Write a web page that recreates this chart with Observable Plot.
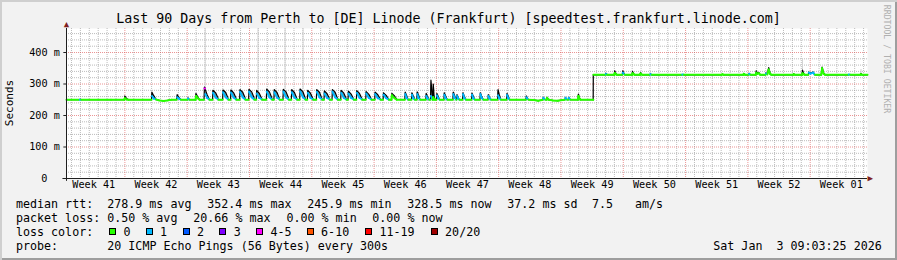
<!DOCTYPE html>
<html><head><meta charset="utf-8">
<script src="https://cdn.jsdelivr.net/npm/d3@7"></script>
<script src="https://cdn.jsdelivr.net/npm/@observablehq/plot@0.6"></script>
<style>
html,body{margin:0;padding:0;background:#f2f2f2;}
#wrap{position:relative;width:897px;height:260px;background:#f2f2f2;overflow:hidden;font-family:"DejaVu Sans Mono",monospace;color:#000;}
#wrap svg{position:absolute;left:0;top:0;overflow:visible;}
.t{position:absolute;white-space:pre;line-height:14px;font-size:11.66px;}
.sw{position:absolute;width:5px;height:5px;border:1px solid #000;}
#border{position:absolute;left:0;top:0;width:897px;height:260px;box-shadow:inset 2px 2px 0 #cfcfcf, inset -2px -2px 0 #9e9e9e;pointer-events:none;}
</style></head>
<body>
<div id="wrap"></div>
<script>
// ---------------- data ----------------
const titleText = "Last 90 Days from Perth to [DE] Linode (Frankfurt) [speedtest.frankfurt.linode.com]";
const yAxisTitle = "Seconds";
const watermark = "RRDTOOL / TOBI OETIKER";

// x in days since start of the 90-day window
const weekLineDays = [6.56, 13.56, 20.56, 27.56, 34.56, 41.56, 48.56, 55.56, 62.56, 69.56, 76.56, 83.56];
const weekLabelDays = [3.06, 10.06, 17.06, 24.06, 31.06, 38.06, 45.06, 52.06, 59.06, 66.06, 73.06, 80.06, 87.06];
const weekLabels = ["Week 41","Week 42","Week 43","Week 44","Week 45","Week 46","Week 47","Week 48","Week 49","Week 50","Week 51","Week 52","Week 01"];
const yMajorTicks = [0, 100, 200, 300, 400];
const yMinorStep = 20;
const yMax = 476.2;
const xMax = 90;

// [day, median ms, smoke max ms, lost pings of 20]
const rttSamples = [
  [0.00,250,250,0],
  [1.40,250,250,0],[1.50,250,251,1],[1.60,250,251,1],[1.65,250,250,0],
  [5.00,250,250,0],
  [6.50,250,250,0],[6.56,255,262,0],[6.75,251,254,0],[6.95,250,250,0],
  [9.55,250,250,0],[9.60,262,274,1],[9.80,254,263,1],[10.00,252,254,1],[10.05,251,251,0],
  [10.40,248,248,0],[10.90,246,247,0],[11.40,248,248,0],[11.80,250,250,0],
  [12.38,250,250,0],[12.44,258,266,1],[12.65,253,257,1],[12.80,251,252,1],[12.85,250,250,0],
  [13.60,250,250,0],[13.65,254,256,1],[13.78,251,251,1],[13.82,250,250,0],
  [14.50,250,250,0],[14.55,262,270,0],[14.75,255,259,0],[14.95,250,250,0],
  [15.45,250,250,0],[15.50,286,290,4],[15.56,286,289,4],[15.60,268,282,1],[15.80,256,266,1],[16.00,252,254,1],[16.05,250,250,0],
  [16.41,250,250,0],[16.46,272,280,1],[16.76,257,272,1],[17.01,252,256,1],[17.06,250,250,0],
  [17.54,250,250,0],[17.59,274,281,1],[17.89,258,273,1],[18.14,252,256,1],[18.19,250,250,0],
  [18.43,250,250,0],[18.48,273,281,1],[18.78,257,272,1],[19.03,252,256,1],[19.08,250,250,0],
  [19.45,250,250,0],[19.50,275,282,1],[19.80,258,274,1],[20.05,252,257,1],[20.10,250,250,0],
  [20.46,250,250,0],[20.51,276,283,1],[20.81,258,275,1],[21.06,252,257,1],[21.11,250,250,0],
  [21.32,250,250,0],[21.37,270,280,1],[21.67,256,270,1],[21.92,252,255,1],[21.97,250,250,0],
  [22.45,250,250,0],[22.50,276,284,1],[22.80,258,275,1],[23.05,252,257,1],[23.10,250,250,0],
  [23.30,250,250,0],[23.35,274,282,1],[23.65,257,273,1],[23.90,252,256,1],[23.95,250,250,0],
  [24.32,250,250,0],[24.37,276,283,1],[24.67,258,275,1],[24.92,252,257,1],[24.97,250,250,0],
  [25.26,250,250,0],[25.31,274,282,1],[25.61,257,273,1],[25.86,252,256,1],[25.91,250,250,0],
  [26.20,250,250,0],[26.25,277,284,1],[26.55,259,276,1],[26.80,252,257,1],[26.85,250,250,0],
  [27.06,250,250,0],[27.11,272,280,1],[27.41,256,271,1],[27.66,252,255,1],[27.71,250,250,0],
  [28.07,250,250,0],[28.12,275,282,1],[28.42,258,274,1],[28.67,252,256,1],[28.72,250,250,0],
  [28.93,250,250,0],[28.98,270,278,1],[29.28,256,269,1],[29.53,252,255,1],[29.58,250,250,0],
  [29.83,250,250,0],[29.88,276,282,1],[30.18,258,274,1],[30.43,252,256,1],[30.48,250,250,0],
  [30.81,250,250,0],[30.86,272,280,1],[31.16,256,271,1],[31.41,252,255,1],[31.46,250,250,0],
  [31.63,250,250,0],[31.68,270,277,1],[31.98,256,268,1],[32.23,252,254,1],[32.28,250,250,0],
  [32.57,250,250,0],[32.62,272,279,1],[32.92,256,270,1],[33.17,252,255,1],[33.22,250,250,0],
  [33.62,250,250,0],[33.67,270,276,1],[33.97,256,267,1],[34.22,252,254,1],[34.27,250,250,0],
  [34.63,250,250,0],[34.68,268,274,1],[34.98,255,266,1],[35.23,252,254,1],[35.28,250,250,0],
  [35.57,250,250,0],[35.62,266,272,1],[35.92,255,264,1],[36.17,251,253,1],[36.22,250,250,0],
  [36.51,250,250,0],[36.56,264,270,0],[36.86,255,262,0],[37.11,250,251,0],
  [38.01,250,250,0],[38.06,268,274,1],[38.20,256,264,1],[38.35,251,253,1],[38.40,250,250,0],
  [38.76,250,250,0],[38.81,266,272,1],[38.95,255,263,1],[39.10,251,253,1],[39.15,250,250,0],
  [39.36,250,250,0],[39.41,268,275,1],[39.55,256,265,1],[39.70,251,253,1],[39.75,250,250,0],
  [40.37,250,250,0],[40.42,262,270,1],[40.56,254,260,1],[40.70,251,252,1],[40.75,250,250,0],
  [40.90,250,250,0],[40.95,262,312,1],[41.05,256,280,1],[41.12,251,256,1],[41.15,250,250,0],
  [41.18,250,250,0],[41.21,258,300,0],[41.30,252,262,0],[41.40,250,250,0],
  [41.57,250,250,0],[41.62,264,270,1],[41.76,255,261,1],[41.90,251,252,1],[41.95,250,250,0],
  [42.40,250,250,0],[42.45,266,272,1],[42.59,255,263,1],[42.75,251,252,1],[42.80,250,250,0],
  [43.41,250,250,0],[43.46,268,274,1],[43.60,256,264,1],[43.75,251,252,1],[43.80,250,250,0],
  [43.83,250,250,0],[43.88,262,266,1],[44.00,254,258,1],[44.12,251,251,1],[44.16,250,250,0],
  [44.50,250,250,0],[44.55,268,272,1],[44.69,256,262,1],[44.84,251,252,1],[44.89,250,250,0],
  [45.51,250,250,0],[45.56,266,271,1],[45.70,255,262,1],[45.85,251,252,1],[45.90,250,250,0],
  [46.45,250,250,0],[46.50,268,272,1],[46.64,256,262,1],[46.79,251,252,1],[46.84,250,250,0],
  [47.35,250,250,0],[47.40,262,266,1],[47.54,254,258,1],[47.68,251,251,1],[47.72,250,250,0],
  [48.44,250,250,0],[48.49,264,282,1],[48.63,255,266,1],[48.78,251,252,1],[48.82,250,250,0],
  [49.45,250,250,0],[49.50,265,270,1],[49.64,255,261,1],[49.78,251,251,1],[49.82,250,250,0],
  [51.62,250,250,0],[51.67,258,262,1],[51.80,253,255,1],[51.90,250,250,0],
  [52.50,249,249,0],[53.00,247,247,0],[53.40,249,249,0],
  [53.53,250,250,0],[53.58,256,258,1],[53.70,252,253,1],[53.80,250,250,0],
  [53.95,250,250,0],[54.00,256,258,0],[54.12,251,252,0],[54.20,250,250,0],
  [54.60,248,248,0],[55.20,247,247,0],[55.70,249,249,0],
  [56.01,250,250,0],[56.06,256,258,1],[56.18,252,253,1],[56.25,250,250,0],
  [56.38,250,250,0],[56.43,256,258,1],[56.55,252,253,1],[56.62,250,250,0],
  [57.47,250,250,0],[57.52,262,268,0],[57.62,254,257,0],[57.75,250,250,0],
  [59.18,250,250,0],[59.19,250,329,0],[59.195,null,329,0],[59.20,329,329,0],
  [60.55,329,329,0],[60.60,332,334,1],[60.68,331,332,1],[60.72,329,329,0],
  [61.55,329,329,0],[61.60,335,342,0],[61.72,331,334,0],[61.85,329,329,0],
  [62.45,329,329,0],[62.50,336,342,1],[62.62,332,335,1],[62.72,329,329,0],
  [63.55,329,329,0],[63.60,334,340,0],[63.72,331,333,0],[63.85,329,329,0],
  [64.45,329,329,0],[64.50,333,336,0],[64.62,330,331,0],[64.75,329,329,0],
  [65.55,329,329,0],[65.60,331,332,1],[65.70,330,330,1],[65.75,329,329,0],
  [69.15,329,329,0],[69.20,330,330,1],[69.30,330,330,1],[69.35,329,329,0],
  [73.60,329,329,0],[73.70,331,331,0],[73.85,329,329,0],
  [76.05,329,329,0],[76.10,332,334,0],[76.25,329,329,0],
  [76.65,329,329,0],[76.70,332,334,1],[76.80,330,331,1],[76.85,329,329,0],
  [77.45,329,329,0],[77.50,336,342,0],[77.62,332,335,0],[77.80,334,336,0],[77.95,329,329,0],
  [78.55,329,329,0],[78.60,333,335,1],[78.70,332,333,1],[78.75,330,330,0],[78.90,346,352,0],[79.05,332,335,0],[79.20,329,329,0],
  [81.65,329,329,0],[81.70,331,333,0],[81.85,329,329,0],
  [82.65,329,329,0],[82.70,334,344,0],[82.82,331,334,0],[82.95,329,329,0],
  [83.35,329,329,0],[83.40,336,338,1],[83.60,333,335,1],[83.90,336,338,1],[84.05,330,330,1],[84.10,329,329,0],
  [84.80,329,329,0],[84.90,350,354,0],[85.05,333,336,0],[85.25,329,329,0],
  [87.85,329,329,0],[87.90,330,330,1],[88.00,330,330,1],[88.05,329,329,0],
  [89.20,329,329,0],[89.25,331,334,0],[89.40,329,329,0],
  [90.00,329,329,0]
];

// light smoke columns from outlier pings: [day, from ms, to ms]
const smokeOutliers = [[15.58,290,476],[21.52,280,476],[24.56,283,476],[26.58,284,476],[82.69,344,380],[89.27,334,346]];

// loss colour legend
const lossLabels = ["0","1","2","3","4-5","6-10","11-19","20/20"];
const lossColors = ["#26ff00","#00b8ff","#0059ff","#7e00ff","#ff00ff","#ff5500","#ff0000","#a00000"];
const lossUpper = [0,1,2,3,5,10,19,20];

const legendRtt = ["median rtt:  278.9 ms avg","352.4 ms max","245.9 ms min","328.5 ms now","37.2 ms sd","7.5","am/s"];
const legendLoss = ["packet loss: 0.50 % avg","20.66 % max","0.00 % min","0.00 % now"];
const legendLossTitle = "loss color:";
const legendProbe = ["probe:","20 ICMP Echo Pings (56 Bytes) every 300s"];
const legendDate = "Sat Jan  3 09:03:25 2026";

// ---------------- layout ----------------
const rttX = [16, 207.3, 307.3, 407.3, 507.3, 592, 635];
const lossX = [16, 193.3, 286.5, 372.3];
const swatchX = [109, 145.7, 182.7, 219.3, 256, 306.7, 365, 430.7];
const lineTop = [197, 211, 225, 239];

const colorOf = l => lossColors[lossUpper.findIndex(u => l <= u)];
const day = d => d[0], med = d => d[1], smax = d => d[2];

// median line segments: only joined where loss colour is the same (smokeping style)
const links = [];
for (let i = 0; i < rttSamples.length - 1; i++) {
  const a = rttSamples[i], b = rttSamples[i + 1];
  if (a[1] == null || b[1] == null) continue;
  if (colorOf(a[3]) !== colorOf(b[3])) continue;
  links.push({a, b, c: colorOf(b[3])});
}

const dayLines = d3.range(0.56, xMax, 1).filter(v => !weekLineDays.some(w => Math.abs(w - v) < 0.01));
const yMinor = d3.range(yMinorStep, yMax, yMinorStep).filter(v => v % 100 !== 0);
const gridCol = "#8f8f8f", mgridCol = "#de4f4f";

const chart = Plot.plot({
  width: 897, height: 200,
  marginLeft: 66, marginRight: 30, marginTop: 28, marginBottom: 22,
  x: {domain: [0, xMax], axis: null},
  y: {domain: [0, yMax], axis: null},
  style: {background: "transparent", fontFamily: "DejaVu Sans Mono", fontSize: "10.2px", overflow: "visible"},
  marks: [
    Plot.frame({fill: "white", stroke: "none"}),
    Plot.ruleY(yMinor, {stroke: gridCol, strokeOpacity: 0.6, strokeDasharray: "1,1"}),
    Plot.ruleX(dayLines, {stroke: gridCol, strokeOpacity: 0.6, strokeDasharray: "1,1"}),
    Plot.ruleY(yMajorTicks.filter(v => v > 0), {stroke: mgridCol, strokeOpacity: 0.6, strokeDasharray: "1,1"}),
    Plot.ruleX(weekLineDays, {stroke: mgridCol, strokeOpacity: 0.6, strokeDasharray: "1,1"}),
    Plot.ruleX(smokeOutliers, {x: d => d[0], y1: d => d[1], y2: d => d[2], stroke: "#d2d2d2"}),
    Plot.areaY(rttSamples, {x: day, y1: med, y2: smax, fill: "#8c8c8c", curve: "linear"}),
    Plot.line(rttSamples, {x: day, y: smax, stroke: "#000", strokeWidth: 1.2, curve: "linear"}),
    Plot.link(links, {x1: d => d.a[0], y1: d => d.a[1], x2: d => d.b[0], y2: d => d.b[1], stroke: d => d.c, strokeWidth: 2, strokeLinecap: "round"}),
    // axes
    Plot.ruleY([0], {x1: -0.4, x2: xMax, stroke: "#1f1f1f"}),
    Plot.ruleX([0], {y1: -9, y2: yMax, stroke: "#1f1f1f"}),
    Plot.ruleY(yMajorTicks.filter(v => v > 0), {x1: -0.3, x2: 0, stroke: "#1f1f1f"}),
    Plot.text([xMax], {x: d => d, y: 0, text: () => "\u25B6", textAnchor: "start", dx: 0, fill: "#801f1f", fontSize: 9}),
    Plot.text([yMax], {x: 0, y: d => d, text: () => "\u25B2", dy: -4, fill: "#801f1f", fontSize: 9}),
    // tick labels
    Plot.text(yMajorTicks.filter(v => v > 0), {frameAnchor: "left", y: d => d, text: d => `${d} m`, textAnchor: "end", dx: -6.7, fill: "#000", fontSize: 10.2}),
    Plot.text(yMajorTicks.filter(v => v === 0), {frameAnchor: "left", y: d => d, text: d => `${d}`, textAnchor: "end", dx: -19.1, fill: "#000", fontSize: 10.2}),
    Plot.text(weekLabels, {x: (d, i) => weekLabelDays[i], frameAnchor: "bottom", dy: 9.7, text: d => d, fill: "#000", fontSize: 10.2})
  ]
});

const wrap = document.getElementById("wrap");
wrap.appendChild(chart);

function addText(txt, left, top, extra) {
  const el = document.createElement("div");
  el.className = "t";
  el.textContent = txt;
  el.style.left = left + "px";
  el.style.top = top + "px";
  if (extra) Object.assign(el.style, extra);
  wrap.appendChild(el);
  return el;
}
// title
addText(titleText, 0, 11.4, {width: "897px", textAlign: "center", fontSize: "13.3px", lineHeight: "16px"});
// y axis title
addText(yAxisTitle, 10, 103, {fontSize: "11px", transform: "translate(-50%,-50%) rotate(-90deg)", lineHeight: "12px"});
// watermark
addText(watermark, 886, 59, {fontSize: "8.2px", color: "#b0b0b0", transform: "translate(-50%,-50%) rotate(90deg)", lineHeight: "9px"});
// legend
legendRtt.forEach((s, i) => addText(s, rttX[i], lineTop[0]));
legendLoss.forEach((s, i) => addText(s, lossX[i], lineTop[1]));
addText(legendLossTitle, 16, lineTop[2]);
lossLabels.forEach((s, i) => {
  const sw = document.createElement("div");
  sw.className = "sw";
  sw.style.left = swatchX[i] + "px";
  sw.style.top = "228px";
  sw.style.background = lossColors[i];
  wrap.appendChild(sw);
  addText(s, swatchX[i] + 14.4, lineTop[2]);
});
addText(legendProbe[0], 16, lineTop[3]);
addText(legendProbe[1], 107.3, lineTop[3]);
addText(legendDate, 713.3, lineTop[3]);

const border = document.createElement("div");
border.id = "border";
wrap.appendChild(border);
</script>
</body></html>
